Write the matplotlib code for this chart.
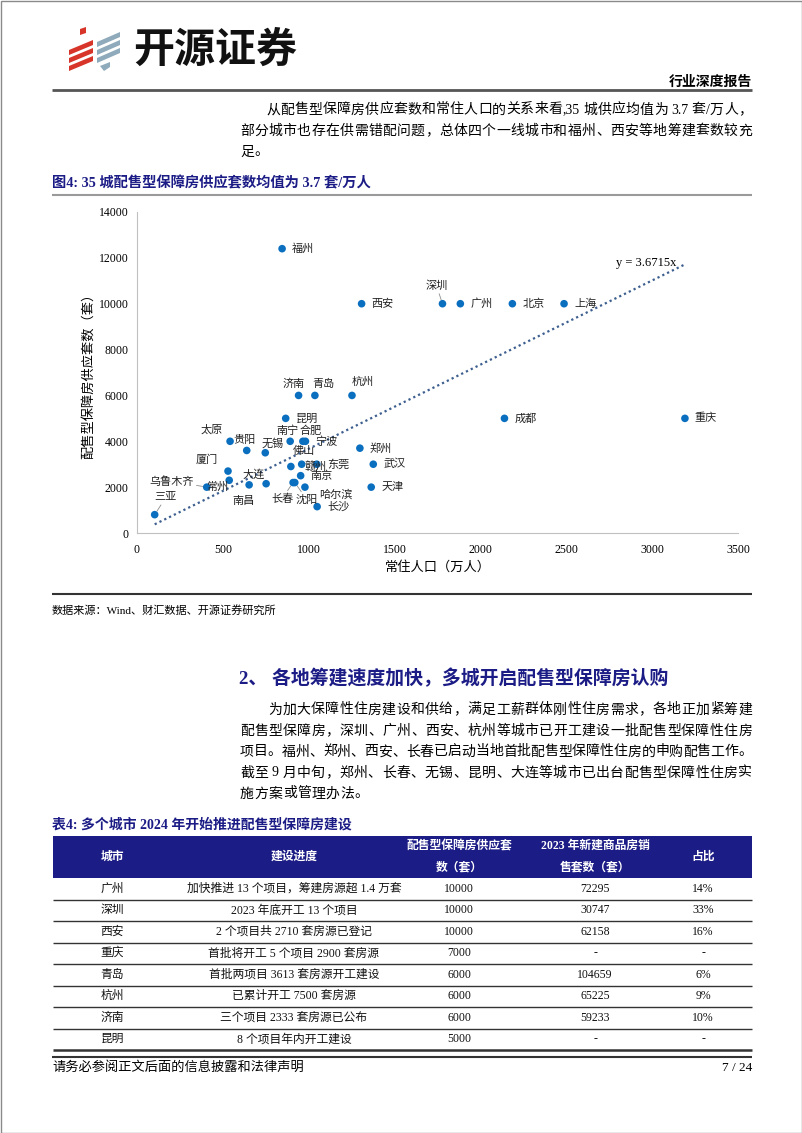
import re
import matplotlib
matplotlib.use('Agg')
import matplotlib.pyplot as plt
from matplotlib.patches import Polygon, Rectangle

# ---- data ----
CITIES = ['福州', '西安', '深圳', '广州', '北京', '上海', '济南', '青岛', '杭州', '成都',
          '重庆', '昆明', '太原', '南宁', '合肥', '宁波', '贵阳', '无锡', '郑州', '赣州',
          '佛山', '东莞', '武汉', '厦门', '常州', '乌鲁木齐', '南昌', '大连', '南京', '长春',
          '沈阳', '哈尔滨', '天津', '长沙', '三亚']
POP = [845, 1308, 1779, 1883, 2186, 2487, 941, 1036, 1252, 2140,
       3191, 866, 542, 892, 966, 981, 639, 747, 1298, 896,
       959, 1047, 1376, 530, 537, 406, 653, 752, 953, 909,
       919, 978, 1364, 1049, 103]
SUPPLY = [12400, 10000, 10000, 10000, 10000, 10000, 6000, 6000, 6000, 5000,
          5000, 5000, 4000, 4000, 4000, 4000, 3600, 3500, 3700, 2900,
          3000, 3000, 3000, 2700, 2300, 2000, 2100, 2150, 2500, 2200,
          2200, 2000, 2000, 1150, 800]
SLOPE = 3.6715
XTICKS = [0, 500, 1000, 1500, 2000, 2500, 3000, 3500]
YTICKS = [0, 2000, 4000, 6000, 8000, 10000, 12000, 14000]

TABLE_HEAD = ['城市', '建设进度', '配售型保障房供应套\n数（套）', '2023 年新建商品房销\n售套数（套）', '占比']
TB_CITY = ['广州', '深圳', '西安', '重庆', '青岛', '杭州', '济南', '昆明']
TB_PROGRESS = ['加快推进 13 个项目，筹建房源超 1.4 万套', '2023 年底开工 13 个项目',
               '2 个项目共 2710 套房源已登记', '首批将开工 5 个项目 2900 套房源',
               '首批两项目 3613 套房源开工建设', '已累计开工 7500 套房源',
               '三个项目 2333 套房源已公布', '8 个项目年内开工建设']
TB_SUPPLY = ['10000', '10000', '10000', '7000', '6000', '6000', '6000', '5000']
TB_SALES = ['72295', '30747', '62158', '-', '104659', '65225', '59233', '-']
TB_SHARE = ['14%', '33%', '16%', '-', '6%', '9%', '10%', '-']

PARA1 = ['从配售型保障房供应套数和常住人口的关系来看,35 城供应均值为 3.7 套/万人，',
         '部分城市也存在供需错配问题，总体四个一线城市和福州、西安等地筹建套数较充',
         '足。']
PARA2 = ['为加大保障性住房建设和供给，满足工薪群体刚性住房需求，各地正加紧筹建',
         '配售型保障房，深圳、广州、西安、杭州等城市已开工建设一批配售型保障性住房',
         '项目。福州、郑州、西安、长春已启动当地首批配售型保障性住房的申购配售工作。',
         '截至 9 月中旬，郑州、长春、无锡、昆明、大连等城市已出台配售型保障性住房实',
         '施方案或管理办法。']

NAVY = '#1c1c86'
W, H = 802, 1133
plt.rcParams['font.family'] = ['Liberation Serif', 'Noto Sans CJK SC']

fig = plt.figure(figsize=(W / 100, H / 100), dpi=100)
page = fig.add_axes([0, 0, 1, 1])
page.set_xlim(0, W)
page.set_ylim(H, 0)
page.axis('off')
renderer = fig.canvas.get_renderer()


def hline(y, x0=52, x1=752, color='#333333', lw=1.5):
    page.plot([x0, x1], [y, y], color=color, lw=lw, solid_capstyle='butt')


def put_line(y, x0, x1, s, size=10, justify=True, **kw):
    toks = re.findall(r'[0-9A-Za-z.%/,]+| |.', s)
    texts, widths = [], []
    for t in toks:
        txt = page.text(0, y, t, fontsize=size, va='center', ha='left', **kw)
        w = size * 0.28 if t == ' ' else txt.get_window_extent(renderer).width
        texts.append(txt)
        widths.append(w)
    gap = (x1 - x0 - sum(widths)) / (len(toks) - 1) if justify and len(toks) > 1 else 0.4
    x = x0
    for txt, w in zip(texts, widths):
        txt.set_x(x)
        x += w + gap


# page border
page.add_patch(Rectangle((0.5, 0.5), W - 1, H - 1, fill=False, ec='#8a8a8a', lw=1))

# logo
for i in range(3):
    page.add_patch(Polygon([(69, 50 + i * 8), (93, 40 + i * 8), (93, 45 + i * 8), (69, 55 + i * 8)],
                           color='#d8352a', lw=0))
    page.add_patch(Polygon([(97, 42 + i * 8), (120, 32 + i * 8), (120, 37 + i * 8), (97, 47 + i * 8)],
                           color='#8eaabb', lw=0))
page.add_patch(Polygon([(80, 29), (86, 27), (86, 33), (80, 35)], color='#d8352a', lw=0))
page.add_patch(Polygon([(100, 66), (110, 62), (110, 67), (104, 71)], color='#8eaabb', lw=0))
page.text(133, 50, '开源证券', fontsize=29.5, fontweight='bold', family='Noto Sans CJK SC',
          va='center', ha='left', color='#111111')
page.text(752, 82, '行业深度报告', fontsize=10, fontweight='bold', va='center', ha='right')
hline(90, color='#555555', lw=2)

# paragraph 1
put_line(110, 266, 752, PARA1[0])
put_line(131, 240, 752, PARA1[1])
put_line(152, 240, 752, PARA1[2], justify=False)

# figure title
page.text(52, 183, '图4: 35 城配售型保障房供应套数均值为 3.7 套/万人', fontsize=10.3,
          fontweight='bold', color=NAVY, va='center', ha='left')
hline(195, color='#9a9a9a', lw=1.5)

# ---- scatter chart ----
ax = fig.add_axes([137 / W, 1 - 533 / H, 601 / W, 321 / H])
ax.patch.set_alpha(0)
ax.scatter(POP, SUPPLY, s=30, color='#0b6fc0', edgecolors='none', zorder=3)
xs = [min(POP), max(POP)]
ax.plot(xs, [SLOPE * x for x in xs], color='#3d5f8f', lw=1.6, linestyle=(0, (1, 1.4)), zorder=2)
ax.text(xs[1] - 400, SLOPE * xs[1] + 80, 'y = %.4fx' % SLOPE, fontsize=9, va='center', ha='left')
ax.set_xlim(0, 3500)
ax.set_ylim(0, 14000)
ax.set_xticks(XTICKS)
ax.set_yticks(YTICKS)
ax.tick_params(length=0, labelsize=8.5, pad=6)
ax.tick_params(axis='x', pad=8)
for s in ['top', 'right']:
    ax.spines[s].set_visible(False)
for s in ['left', 'bottom']:
    ax.spines[s].set_color('#c0c0c0')
ax.set_ylabel('配售型保障房供应套数（套）', fontsize=9.5)
ax.yaxis.set_label_coords(-0.070, 0.5)
ax.set_xlabel('常住人口（万人）', fontsize=9.5)
ax.xaxis.set_label_coords(0.5, -0.086)

# label offsets in pixels (dx right, dy down), alignment, leader
OFF = {'深圳': (-6, -18, 'center', True), '济南': (-5, -12, 'center', False),
       '青岛': (9, -12, 'center', False), '杭州': (11, -14, 'center', False),
       '南宁': (-3, -11, 'center', False), '合肥': (8, -11, 'center', False),
       '太原': (-18, -12, 'center', False), '贵阳': (-2, -11, 'center', False),
       '无锡': (7, -9, 'center', False), '佛山': (2, -13, 'center', False),
       '赣州': (14, 0, 'left', False), '长春': (-11, 16, 'center', True),
       '沈阳': (12, 17, 'center', True), '哈尔滨': (14, 7, 'left', False),
       '厦门': (-21, -11, 'center', False), '常州': (-12, 7, 'center', False),
       '乌鲁木齐': (-13, -6, 'right', True), '大连': (-13, -9, 'center', False),
       '南昌': (-6, 16, 'center', False), '三亚': (11, -17, 'center', True)}
for name, x, y in zip(CITIES, POP, SUPPLY):
    dx, dy, ha, lead = OFF.get(name, (10, 0, 'left', False))
    ap = dict(arrowstyle='-', color='#8c8c8c', lw=0.6, shrinkA=0, shrinkB=3) if lead else None
    ax.annotate(name, (x, y), xytext=(dx * 0.72, -dy * 0.72), textcoords='offset points',
                fontsize=8, ha=ha, va='center', color='#222222', arrowprops=ap)

hline(594, color='#333333', lw=1.5)
page.text(52, 610, '数据来源：Wind、财汇数据、开源证券研究所', fontsize=8, va='center', ha='left')

# section heading
page.text(239, 679, '2、 各地筹建速度加快，多城开启配售型保障房认购', fontsize=13.6,
          fontweight='bold', color=NAVY, va='center', ha='left')

# paragraph 2
for i, line in enumerate(PARA2):
    x0 = 268 if i == 0 else 240
    put_line(710 + i * 21, x0, 752, line, justify=(i < len(PARA2) - 1))

# table
page.text(52, 825, '表4: 多个城市 2024 年开始推进配售型保障房建设', fontsize=10,
          fontweight='bold', color=NAVY, va='center', ha='left')
COLX = [112, 294, 459, 595, 703]
page.add_patch(Rectangle((53, 836), 699, 42, color=NAVY, lw=0))
for cx, head in zip(COLX, TABLE_HEAD):
    parts = head.split('\n')
    if len(parts) == 1:
        page.text(cx, 857, head, fontsize=8.5, fontweight='bold', color='white', ha='center', va='center')
    else:
        page.text(cx, 846, parts[0], fontsize=8.5, fontweight='bold', color='white', ha='center', va='center')
        page.text(cx, 868, parts[1], fontsize=8.5, fontweight='bold', color='white', ha='center', va='center')
ROW_H = 21.5
for r in range(len(TB_CITY)):
    yc = 878 + ROW_H * (r + 0.5)
    row = [TB_CITY[r], TB_PROGRESS[r], TB_SUPPLY[r], TB_SALES[r], TB_SHARE[r]]
    for cx, val in zip(COLX, row):
        page.text(cx, yc, val, fontsize=8.5, ha='center', va='center', color='#111111')
    yb = 878 + ROW_H * (r + 1)
    last = r == len(TB_CITY) - 1
    hline(yb, 53, 752, color='#333333', lw=1.8 if last else 1.0)

# footer
hline(1057, color='#333333', lw=1.5)
page.text(52, 1068, '请务必参阅正文后面的信息披露和法律声明', fontsize=9.5, va='center', ha='left')
page.text(752, 1068, '7 / 24', fontsize=9.5, va='center', ha='right')

fig.savefig('out.png', dpi=100)
